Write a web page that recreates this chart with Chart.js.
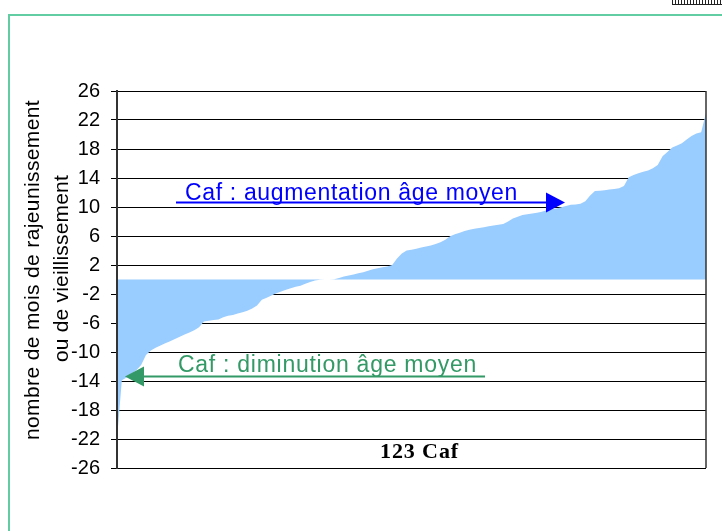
<!DOCTYPE html>
<html>
<head>
<meta charset="utf-8">
<script src="https://cdn.jsdelivr.net/npm/chart.js@4"></script>
<style>
  html, body { margin: 0; padding: 0; background: #fff; }
  #wrap { position: relative; width: 722px; height: 531px; overflow: hidden; }
  #frame { position: absolute; left: 8px; top: 14px; width: 720px; height: 530px;
           border-top: 2px solid #62cda2; border-left: 2px solid #62cda2; }
  #tag { position: absolute; left: 672px; top: -3px; width: 52px; height: 6px;
         border: 1px solid #222; background: repeating-linear-gradient(90deg, #fff 0 2px, #222 2px 3px); }
  canvas { position: absolute; left: 0; top: 0; }
</style>
</head>
<body>
<div id="wrap">
  <div id="frame"></div>
  <div id="tag"></div>
  <canvas id="chart" width="722" height="531"></canvas>
</div>
<script>
// 123 Caf, sorted: months of rejuvenation (<0) or ageing (>0)
const cafLabels = Array.from({ length: 123 }, (_, i) => String(i + 1));
const cafValues = [
  -22, -13.9, -13.5, -13.0, -12.5, -11.8, -10.4, -9.8, -9.4, -9.1,
  -8.8, -8.5, -8.2, -7.9, -7.6, -7.3, -7.0, -6.6, -5.8, -5.7,
  -5.6, -5.5, -5.2, -5.0, -4.9, -4.7, -4.5, -4.3, -4.0, -3.6,
  -2.8, -2.5, -2.2, -1.9, -1.65, -1.4, -1.2, -1.0, -0.85, -0.6,
  -0.35, -0.15, -0.05, 0, 0, 0.05, 0.2, 0.4, 0.55, 0.7,
  0.85, 1.0, 1.2, 1.4, 1.55, 1.7, 1.8, 2.0, 2.9, 3.6,
  4.0, 4.1, 4.25, 4.4, 4.55, 4.7, 4.9, 5.15, 5.5, 5.95,
  6.25, 6.45, 6.7, 6.85, 7.0, 7.1, 7.2, 7.35, 7.45, 7.55,
  7.65, 8.0, 8.4, 8.65, 8.9, 9.0, 9.1, 9.2, 9.35, 9.55,
  9.7, 9.8, 9.95, 10.15, 10.3, 10.35, 10.45, 10.8, 11.6, 12.2,
  12.25, 12.3, 12.4, 12.5, 12.6, 12.9, 14.1, 14.4, 14.65, 14.85,
  15.05, 15.35, 15.8, 17.0, 17.6, 18.2, 18.5, 18.8, 19.3, 19.8,
  20.15, 20.3, 23
];
const yTicks = [-26, -22, -18, -14, -10, -6, -2, 2, 6, 10, 14, 18, 22, 26];

const yTitle = ["nombre de mois de rajeunissement", "ou de vieillissement"];
const xTitle = "123 Caf";
const upText = "Caf : augmentation âge moyen";
const downText = "Caf : diminution âge moyen";

// draws text stretched to a given width with letter spacing
function fitText(ctx, text, x, y, width) {
  ctx.letterSpacing = "0px";
  const w = ctx.measureText(text).width;
  const sp = (width - w) / text.length;
  ctx.letterSpacing = sp + "px";
  ctx.fillText(text, x, y);
}

function arrow(ctx, x1, x2, y, color, dir) {
  ctx.strokeStyle = color;
  ctx.fillStyle = color;
  ctx.lineWidth = 2;
  ctx.beginPath();
  ctx.moveTo(x1, y);
  ctx.lineTo(x2, y);
  ctx.stroke();
  ctx.beginPath();
  ctx.moveTo(x2 + dir * 19, y);
  ctx.lineTo(x2, y - 10);
  ctx.lineTo(x2, y + 10);
  ctx.closePath();
  ctx.fill();
}

const decorations = {
  id: "decorations",
  afterDatasetsDraw(chart) {
    const ctx = chart.ctx;
    const a = chart.chartArea;
    ctx.save();
    // right border of plot
    ctx.strokeStyle = "#333";
    ctx.lineWidth = 1.5;
    ctx.beginPath();
    ctx.moveTo(a.right, a.top);
    ctx.lineTo(a.right, a.bottom);
    ctx.stroke();

    // x title inside the plot
    ctx.fillStyle = "#000";
    ctx.font = "bold 22px 'Liberation Serif', 'Times New Roman', serif";
    ctx.textAlign = "left";
    ctx.textBaseline = "alphabetic";
    fitText(ctx, xTitle, 380, 458, 79);

    // y title, two rotated lines
    ctx.font = "21px 'Liberation Sans', Arial, sans-serif";
    ctx.textAlign = "center";
    ctx.textBaseline = "middle";
    ctx.save();
    ctx.translate(33, 270);
    ctx.rotate(-Math.PI / 2);
    fitText(ctx, yTitle[0], 0, 0, 340);
    ctx.restore();
    ctx.save();
    ctx.translate(62, 268.5);
    ctx.rotate(-Math.PI / 2);
    fitText(ctx, yTitle[1], 0, 0, 187);
    ctx.restore();

    // annotations
    ctx.textAlign = "left";
    ctx.textBaseline = "alphabetic";
    ctx.font = "23px 'Liberation Sans', Arial, sans-serif";
    ctx.fillStyle = "#0000ff";
    fitText(ctx, upText, 185, 200, 333);
    arrow(ctx, 176, 546, 202.5, "#0000ff", 1);

    ctx.fillStyle = "#339966";
    ctx.font = "23px 'Liberation Sans', Arial, sans-serif";
    fitText(ctx, downText, 178, 372, 299);
    arrow(ctx, 485, 144, 376.5, "#339966", -1);
    ctx.restore();
  }
};

const chart = new Chart(document.getElementById("chart"), {
  type: "line",
  data: {
    labels: cafLabels,
    datasets: [{
      data: cafValues,
      fill: "origin",
      backgroundColor: "#99ccff",
      borderWidth: 0,
      pointRadius: 0,
      tension: 0
    }]
  },
  options: {
    responsive: false,
    animation: false,
    layout: { padding: { top: 91, right: 16, bottom: 63, left: 0 } },
    plugins: { legend: { display: false }, tooltip: { enabled: false } },
    scales: {
      x: { display: false },
      y: {
        min: -26,
        max: 26,
        afterBuildTicks: s => { s.ticks = yTicks.map(v => ({ value: v })); },
        afterFit: s => { s.width = 117; },
        grid: { color: "#000", lineWidth: 1, tickLength: 6 },
        border: { color: "#333", width: 2, z: 1 },
        ticks: {
          color: "#000",
          padding: 11,
          font: { family: "'Liberation Sans', Arial, sans-serif", size: 20 }
        }
      }
    }
  },
  plugins: [decorations]
});
</script>
</body>
</html>
